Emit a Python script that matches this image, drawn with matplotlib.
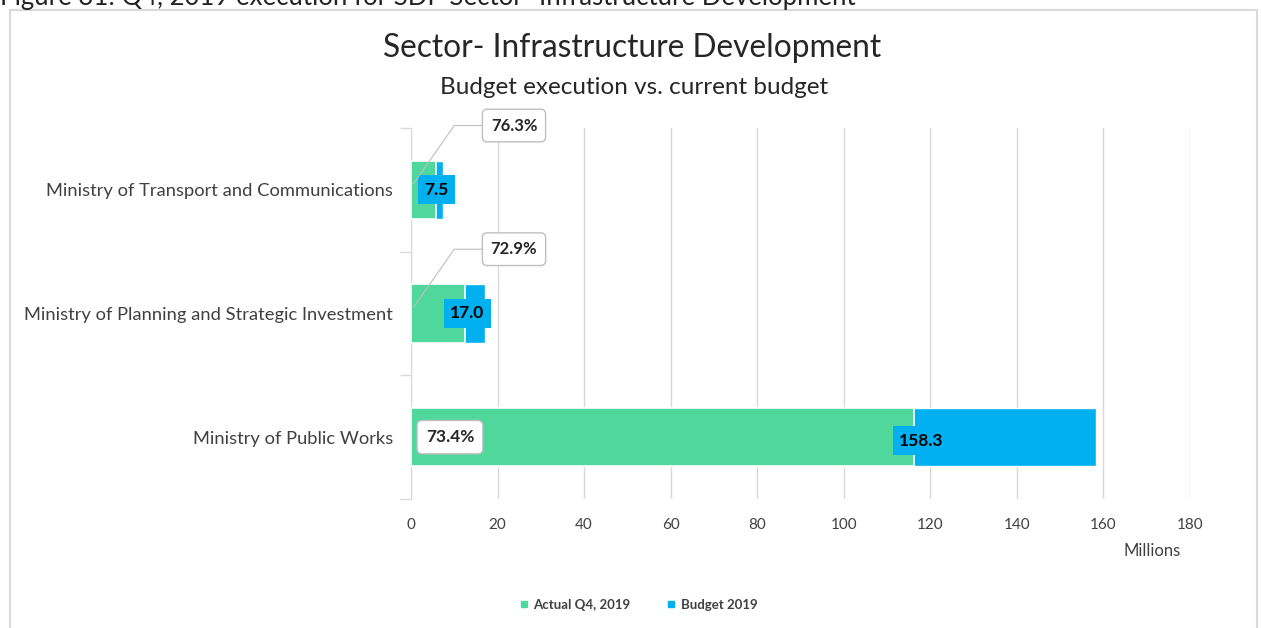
import numpy as np
import matplotlib.pyplot as plt
from matplotlib.patches import Rectangle
from matplotlib.lines import Line2D

plt.rcParams['font.family'] = ['Lato', 'DejaVu Sans']

# Ministries, top to bottom as shown
ministries = ['Ministry of Transport and Communications',
              'Ministry of Planning and Strategic Investment',
              'Ministry of Public Works']
budget_2019 = [7.5, 17.0, 158.3]      # millions
execution_pct = [76.3, 72.9, 73.4]    # actual Q4 as % of budget
actual_q4 = [b * p / 100 for b, p in zip(budget_2019, execution_pct)]

xticks = [0, 20, 40, 60, 80, 100, 120, 140, 160, 180]

green = '#50d89c'
blue = '#00b0f0'
grid_c = '#d9d9d9'
txt_c = '#404040'

fig = plt.figure(figsize=(12.61, 6.28), dpi=100)

# outer chart frame
fig.patches.append(Rectangle((10 / 1261, -0.1), 1247 / 1261, 1.1 - 10 / 628,
                             transform=fig.transFigure, fill=False,
                             edgecolor=grid_c, lw=1.5))

# caption of the figure, clipped by the top edge
fig.text(0.0, 1 - 5 / 628,
         'Figure 31: Q4, 2019 execution for SDP Sector- Infrastructure Development',
         fontsize=18.5, color='#222222', ha='left', va='baseline')

fig.text(632 / 1261, 1 - 48 / 628, 'Sector- Infrastructure Development',
         fontsize=22.8, color='#262626', ha='center', va='center')
fig.text(634 / 1261, 1 - 88 / 628, 'Budget execution vs. current budget',
         fontsize=17.5, color='#262626', ha='center', va='center')

ax = fig.add_axes([411 / 1261, 129 / 628, 779 / 1261, 371 / 628])
y = np.arange(len(ministries))

ax.barh(y, budget_2019, height=0.47, color=blue, edgecolor='white', lw=1, zorder=2)
ax.barh(y, actual_q4, height=0.47, color=green, edgecolor='white', lw=1.2, zorder=3)

ax.set_xlim(0, 180)
ax.set_ylim(2.5, -0.5)
ax.set_xticks(xticks)
ax.set_xticklabels([str(t) for t in xticks], fontsize=11, color=txt_c)
ax.set_yticks(y)
ax.set_yticklabels(ministries, fontsize=13.2, color=txt_c)
ax.set_yticks([-0.5, 0.5, 1.5, 2.5], minor=True)
ax.tick_params(axis='y', which='major', length=0, pad=13)
ax.tick_params(axis='y', which='minor', length=8, color=grid_c, width=1)
ax.tick_params(axis='x', length=0, pad=14)
ax.grid(axis='x', color=grid_c, lw=1, zorder=0)
for s in ['top', 'right', 'bottom']:
    ax.spines[s].set_visible(False)
ax.spines['left'].set_color(grid_c)
ax.spines['left'].set_zorder(1)

fig.text(1152 / 1261, 1 - 551 / 628, 'Millions', fontsize=12, color=txt_c,
         ha='center', va='center')

# budget value labels at the end of the executed part
budget_offsets = [0.2, 0.6, 1.8]
budget_dy = [0, 0, 0.03]
for i, (a, b) in enumerate(zip(actual_q4, budget_2019)):
    ax.text(a + budget_offsets[i], i + budget_dy[i], f'{b:.1f}', fontsize=12.5,
            fontweight='bold', color='black', ha='center', va='center', zorder=5,
            bbox=dict(boxstyle='square,pad=0.38', fc=blue, ec='none'))

# execution rate labels
pct_box = dict(boxstyle='round,pad=0.5,rounding_size=0.3', fc='white',
               ec='#bfbfbf', lw=1)
for i in range(2):
    ax.annotate(f'{execution_pct[i]:.1f}%', xy=(0.6, i - 0.05),
                xytext=(23.8, i - 0.52), fontsize=12, fontweight='bold',
                color='#262626', ha='center', va='center', zorder=6,
                bbox=pct_box,
                arrowprops=dict(arrowstyle='-', color='#bfbfbf', lw=0.8,
                                relpos=(0, 0.5), shrinkA=0, shrinkB=0,
                                connectionstyle='angle,angleA=0,angleB=55,rad=0'))
ax.text(9.0, 2, f'{execution_pct[2]:.1f}%', fontsize=12.5, fontweight='bold',
        color='#262626', ha='center', va='center', zorder=6, bbox=pct_box)

handles = [Line2D([], [], marker='s', ls='none', color=green, markersize=4.5),
           Line2D([], [], marker='s', ls='none', color=blue, markersize=4.5)]
fig.legend(handles, ['Actual Q4, 2019', 'Budget 2019'], loc='center',
           bbox_to_anchor=(634 / 1261, 1 - 605 / 628), ncol=2, frameon=False,
           prop={'size': 9.5, 'weight': 'bold'}, handletextpad=-0.3,
           columnspacing=2.1, labelcolor=txt_c)

fig.savefig('out.png', dpi=100)
